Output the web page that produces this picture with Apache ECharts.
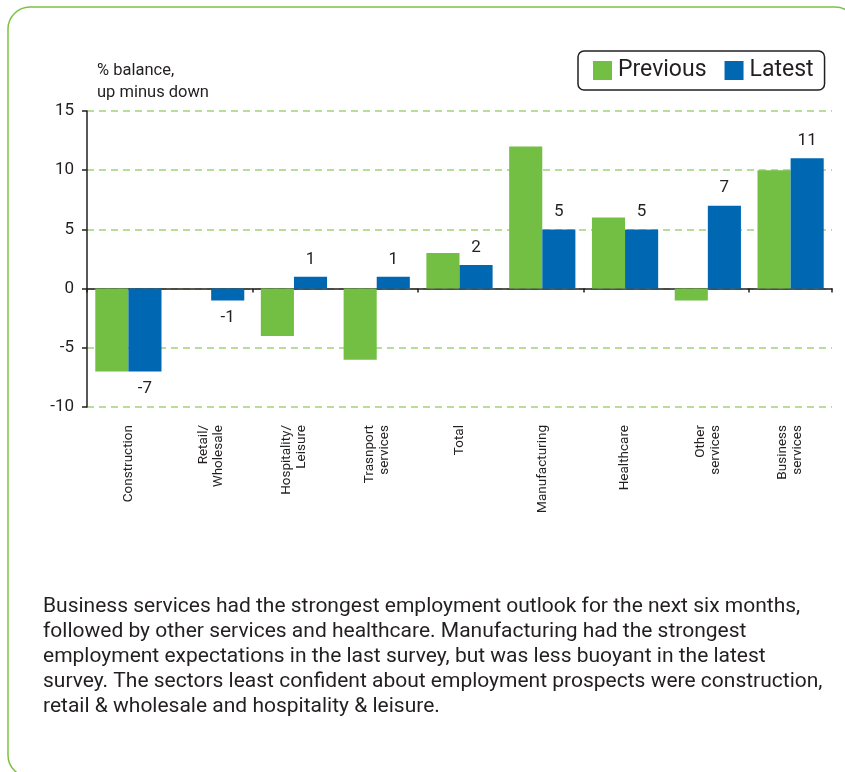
<!DOCTYPE html>
<html>
<head>
<meta charset="utf-8">
<script src="https://cdn.jsdelivr.net/npm/echarts@6/dist/echarts.min.js"></script>
<style>
html,body{margin:0;padding:0;background:#fff;}
#chart{width:845px;height:772px;}
</style>
</head>
<body>
<div id="chart"></div>
<script>
const categories = ['Construction', 'Retail/\nWholesale', 'Hospitality/\nLeisure', 'Trasnport\nservices', 'Total', 'Manufacturing', 'Healthcare', 'Other\nservices', 'Business\nservices'];
const previous = [-7, 0, -4, -6, 3, 12, 6, -1, 10];
const latest = [-7, -1, 1, 1, 2, 5, 5, 7, 11];
const yTicks = { min: -10, max: 15, interval: 5 };
const yAxisName = '% balance,\nup minus down';
const bodyText = 'Business services had the strongest employment outlook for the next six months,\nfollowed by other services and healthcare. Manufacturing had the strongest\nemployment expectations in the last survey, but was less buoyant in the latest\nsurvey. The sectors least confident about employment prospects were construction,\nretail & wholesale and hospitality & leisure.';

const FONT = 'Roboto, "Noto Sans", sans-serif';
const GREEN = '#72bf44';
const BLUE = '#0068b3';
const TXT = '#231f20';

const chart = echarts.init(document.getElementById('chart'), null, { renderer: 'canvas' });

const latestData = latest.map(v => ({
  value: v,
  label: { position: v >= 0 ? 'top' : 'bottom' }
}));

chart.setOption({
  animation: false,
  backgroundColor: '#fff',
  textStyle: { fontFamily: FONT },
  grid: { left: 87, right: 13, top: 111, bottom: 365, containLabel: false },
  legend: {
    left: 578, top: 51,
    padding: [8, 11, 8, 15],
    itemWidth: 19, itemHeight: 19, itemGap: 18,
    borderColor: TXT, borderWidth: 1.5, borderRadius: 6,
    icon: 'rect',
    textStyle: { fontSize: 23, color: TXT, fontFamily: FONT, padding: [0, 0, 0, 1] },
    data: ['Previous', 'Latest']
  },
  graphic: [
    {
      type: 'rect', silent: true, z: -1,
      shape: { x: 8, y: 7, width: 849, height: 770, r: 22 },
      style: { fill: null, stroke: '#7dc242', lineWidth: 1.5 }
    },
    {
      type: 'text', left: 97, top: 60,
      style: { text: yAxisName, font: '16.5px ' + FONT, fill: TXT, lineHeight: 22 }
    },
    {
      type: 'text', left: 43, top: 594,
      style: { text: bodyText, font: '21px ' + FONT, fill: TXT, lineHeight: 25 }
    }
  ],
  xAxis: [
    {
      type: 'category', data: categories, position: 'bottom',
      axisLine: { show: false, onZero: false },
      axisTick: { show: false },
      axisLabel: {
        rotate: 90, margin: 18, fontSize: 13.5, color: TXT, fontFamily: FONT,
        lineHeight: 15, interval: 0
      }
    },
    {
      type: 'category', data: categories, position: 'top',
      axisLine: { show: true, onZero: true, lineStyle: { color: TXT, width: 1.5 } },
      axisTick: { show: true, inside: true, length: 4, alignWithLabel: false, lineStyle: { color: TXT, width: 1.5 } },
      axisLabel: { show: false }
    }
  ],
  yAxis: {
    type: 'value', min: yTicks.min, max: yTicks.max, interval: yTicks.interval,
    axisLine: { show: true, onZero: false, lineStyle: { color: TXT, width: 1.5 } },
    axisTick: { show: true, length: 5, lineStyle: { color: TXT, width: 1.5 } },
    axisLabel: { fontSize: 17, color: TXT, margin: 13, fontFamily: FONT },
    splitLine: {
      show: true,
      lineStyle: { color: '#b6dd9a', width: 2, type: [7, 5] }
    }
  },
  series: [
    {
      name: 'Previous', type: 'bar', xAxisIndex: 0, data: previous,
      itemStyle: { color: GREEN },
      barGap: '0%', barCategoryGap: '20%'
    },
    {
      name: 'Latest', type: 'bar', xAxisIndex: 0, data: latestData,
      itemStyle: { color: BLUE },
      barGap: '0%', barCategoryGap: '20%',
      label: { show: true, fontSize: 17, color: TXT, distance: 9, fontFamily: FONT }
    }
  ]
});
</script>
</body>
</html>
